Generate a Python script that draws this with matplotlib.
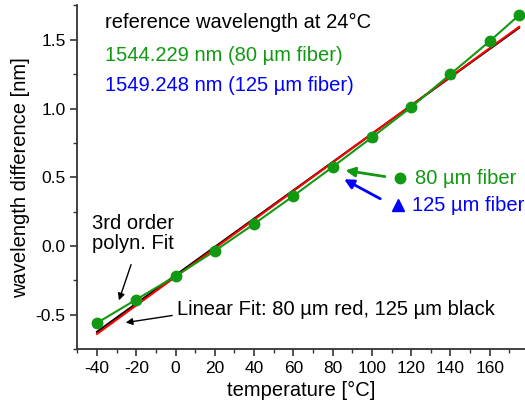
import matplotlib.pyplot as plt
import numpy as np

plt.rcParams['font.family'] = ['Liberation Sans', 'DejaVu Sans']
plt.rcParams['axes.unicode_minus'] = False

# measured points (temperature in degC, wavelength shift in nm)
temp = [-40, -20, 0, 20, 40, 60, 80, 100, 120, 140, 160, 175]
shift_80 = [-0.56, -0.39, -0.22, -0.036, 0.16, 0.364, 0.575, 0.79, 1.01, 1.25, 1.49, 1.68]
shift_125 = [-0.555, -0.385, -0.215, -0.03, 0.165, 0.37, 0.58, 0.795, 1.015, 1.255, 1.495, 1.685]

# linear fit end points
fit_x = [-40, 175]
fit_80 = [-0.64, 1.595]
fit_125 = [-0.625, 1.588]

fig = plt.figure(figsize=(5.25, 4.12), dpi=100)
ax = fig.add_axes([77.4 / 525, 63 / 412, 1 - 77.4 / 525, 343.5 / 412])

ax.plot(temp, shift_125, color='blue', lw=0, marker='^', ms=6, zorder=2)
ax.plot(fit_x, fit_125, color='black', lw=1.5, zorder=3)
ax.plot(fit_x, fit_80, color='red', lw=1.5, zorder=4)
ax.plot(temp, shift_80, color='#119911', lw=1.5, marker='o', ms=7.5, zorder=5)

ax.set_xlim(-50, 178)
ax.set_ylim(-0.75, 1.75)
ax.set_xticks(np.arange(-40, 161, 20))
ax.set_xticks(np.arange(-50, 178, 10), minor=True)
ax.set_yticks([-0.5, 0.0, 0.5, 1.0, 1.5])
ax.set_yticks(np.arange(-0.75, 1.76, 0.25), minor=True)
ax.spines['top'].set_visible(False)
ax.spines['right'].set_visible(False)
for s in ['left', 'bottom']:
    ax.spines[s].set_linewidth(1.3)
    ax.spines[s].set_color('#333333')
ax.tick_params(which='major', direction='out', length=5, width=1.2, labelsize=12.5, color='#333333')
ax.tick_params(which='minor', direction='out', length=3, width=1.0, color='#333333')

ax.set_xlabel('temperature [°C]', fontsize=14.5)
ax.set_ylabel('wavelength difference [nm]', fontsize=14.5)

ax.text(-36, 1.623, 'reference wavelength at 24°C', fontsize=14.5, va='center')
ax.text(-36, 1.383, '1544.229 nm (80 µm fiber)', fontsize=14.5, va='center', color='#119911')
ax.text(-36, 1.165, '1549.248 nm (125 µm fiber)', fontsize=14.5, va='center', color='blue')

ax.plot([114.1], [0.494], 'o', color='#119911', ms=7.5)
ax.text(121.8, 0.494, '80 µm fiber', fontsize=14.5, va='center', color='#119911')
ax.plot([113.1], [0.298], '^', color='blue', ms=8)
ax.text(120.3, 0.298, '125 µm fiber', fontsize=14.5, va='center', color='blue')

ax.annotate('', xy=(85.1, 0.553), xytext=(108.0, 0.502),
            arrowprops=dict(arrowstyle='-|>', color='#119911', lw=2, mutation_scale=14))
ax.annotate('', xy=(84.6, 0.495), xytext=(105.5, 0.334),
            arrowprops=dict(arrowstyle='-|>', color='blue', lw=2, mutation_scale=14))

ax.text(-42.6, 0.09, '3rd order\npolyn. Fit', fontsize=14.5, va='center', linespacing=1.1)
ax.annotate('', xy=(-29.3, -0.415), xytext=(-22.2, -0.117),
            arrowprops=dict(arrowstyle='-|>', color='black', lw=1, mutation_scale=10))
ax.text(0.7, -0.466, 'Linear Fit: 80 µm red, 125 µm black', fontsize=14.5, va='center')
ax.annotate('', xy=(-26.8, -0.561), xytext=(-0.3, -0.503),
            arrowprops=dict(arrowstyle='-|>', color='black', lw=1, mutation_scale=10))

fig.savefig('out.png', dpi=100)
